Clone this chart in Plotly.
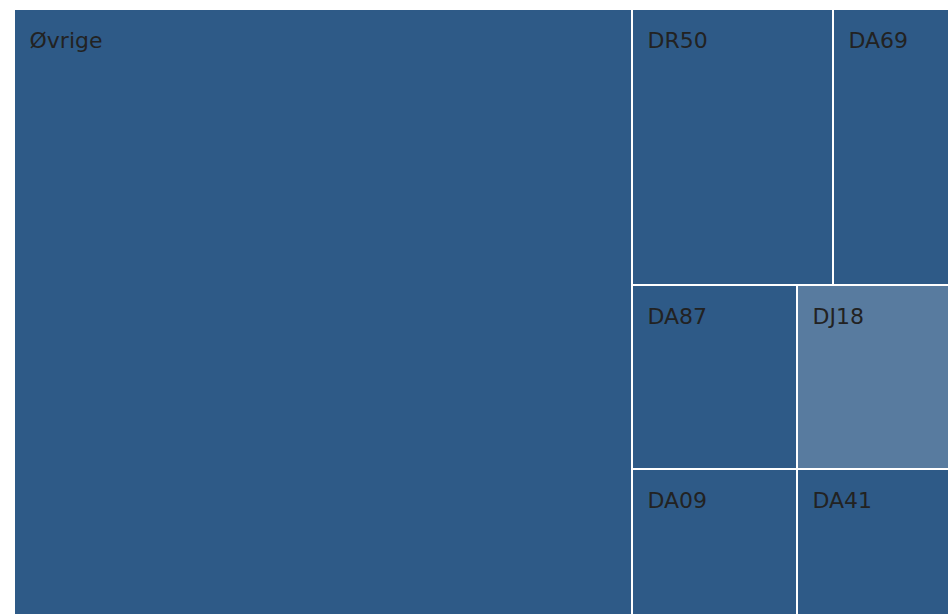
import plotly.graph_objects as go

labels = ["Øvrige", "DR50", "DA69", "DA87", "DJ18", "DA09", "DA41"]
parents = ["", "", "", "", "", "", ""]
values = [375126, 55476, 32568, 30360, 28336, 24255, 22638]
colors = ["#2e5a87", "#2e5a87", "#2e5a87", "#2e5a87", "#587b9f", "#2e5a87", "#2e5a87"]

fig = go.Figure(go.Treemap(
    labels=labels,
    parents=parents,
    values=values,
    marker=dict(colors=colors, line=dict(color="white", width=2),
                pad=dict(t=0, l=0, r=0, b=0)),
    textposition="top left",
    textinfo="label",
    texttemplate=("&nbsp;<br><span style='font-size:25px'>\u2002</span>"
                  "<span style='font-size:22px'>%{label}</span>"),
    textfont=dict(family="Verdana, DejaVu Sans", size=16, color="#222222"),
    tiling=dict(squarifyratio=1.618, pad=0),
    pathbar=dict(visible=False),
    hoverinfo="label+value",
    sort=True,
))
fig.update_layout(
    width=951, height=616,
    margin=dict(l=14, t=9, r=0, b=0),
    paper_bgcolor="white",
)
fig.write_html(
    "out.html",
    config={"displayModeBar": False},
    post_script=(
        "document.body.style.margin='0';"
        "document.body.style.overflow='hidden';"
        "document.documentElement.style.overflow='hidden';"
    ),
)
